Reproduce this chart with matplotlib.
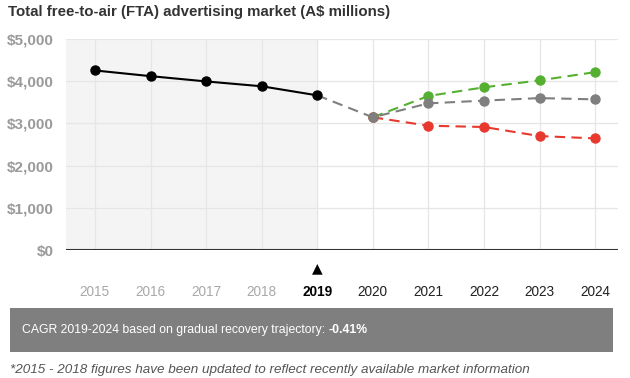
import matplotlib
matplotlib.use('Agg')
import matplotlib.pyplot as plt

plt.rcParams['font.family'] = ['Liberation Sans', 'DejaVu Sans']

# Data (A$ millions)
hist_years = [2015, 2016, 2017, 2018, 2019]
hist_values = [4255, 4120, 3995, 3880, 3665]
proj_years = [2020, 2021, 2022, 2023, 2024]
base_values = [3145, 3475, 3540, 3600, 3570]
upside_values = [3145, 3650, 3855, 4020, 4215]
downside_values = [3145, 2945, 2915, 2700, 2645]
all_years = hist_years + proj_years
y_ticks = [0, 1000, 2000, 3000, 4000, 5000]

title = 'Total free-to-air (FTA) advertising market (A$ millions)'
cagr_text = 'CAGR 2019-2024 based on gradual recovery trajectory: '
cagr_value = '-0.41%'
footnote = '*2015 - 2018 figures have been updated to reflect recently available market information'

GREEN = '#55b032'
RED = '#e8392f'
GREY = '#7f7f7f'

fig = plt.figure(figsize=(6.3, 3.78), dpi=100)
ax = fig.add_axes([0.1048, 0.3386, 0.876, 0.5582])

ax.set_xlim(2014.48, 2024.41)
ax.set_ylim(0, 5000)

# shaded history area
ax.axvspan(2014.48, 2019, color='#f4f4f4', zorder=0)

for y in y_ticks[1:]:
    ax.axhline(y, color='#e6e6e6', lw=0.9, zorder=1)
for x in all_years:
    ax.axvline(x, color='#e6e6e6', lw=0.9, zorder=1)

ms = 6.5
# projections
ax.plot(proj_years, upside_values, color=GREEN, ls=(0, (5, 3)), lw=1.5,
        marker='o', ms=ms, zorder=3)
ax.plot(proj_years, downside_values, color=RED, ls=(0, (5, 3)), lw=1.5,
        marker='o', ms=ms, zorder=3)
ax.plot([hist_years[-1]] + proj_years, [hist_values[-1]] + base_values,
        color=GREY, ls=(0, (5, 3)), lw=1.5, marker='o', ms=ms,
        markevery=list(range(1, 6)), zorder=4)
# history
ax.plot(hist_years, hist_values, color='black', lw=1.5, marker='o', ms=ms, zorder=5)

ax.axhline(0, color='#333333', lw=1.5, zorder=6)

for s in ax.spines.values():
    s.set_visible(False)
ax.tick_params(length=0)
ax.set_yticks(y_ticks)
ax.set_yticklabels(['$' + format(v, ',') for v in y_ticks],
                   fontweight='bold', color='#9a9a9a', fontsize=11)
ax.tick_params(axis='y', pad=9)
ax.set_xticks(all_years)
ax.set_xticklabels([str(y) for y in all_years], fontsize=9.8)
ax.tick_params(axis='x', pad=25)
for lbl, yr in zip(ax.get_xticklabels(), all_years):
    if yr < 2019:
        lbl.set_color('#a8a8a8')
    elif yr == 2019:
        lbl.set_color('black')
        lbl.set_fontweight('bold')
    else:
        lbl.set_color('#222222')

# marker arrow above 2019
ax.annotate('\u25B2', xy=(2019, 0), xytext=(0, -13), textcoords='offset points',
            ha='center', va='center', fontsize=10, color='black',
            family=['DejaVu Sans'])

fig.text(8 / 630, 1 - 12 / 378, title, fontsize=10.8, fontweight='bold',
         color='#333333', va='center', ha='left')

# CAGR box
box = fig.add_axes([10 / 630, 1 - 352 / 378, 603 / 630, 44 / 378])
box.set_facecolor(GREY)
box.set_xticks([])
box.set_yticks([])
for s in box.spines.values():
    s.set_visible(False)
t = box.text(12 / 603, 0.5, cagr_text, color='white', fontsize=8.8,
             va='center', ha='left', transform=box.transAxes)
box.annotate(cagr_value, xycoords=t, xy=(1, 0), va='bottom', ha='left',
             color='white', fontsize=8.8, fontweight='bold')

fig.text(10 / 630, 1 - 370 / 378, footnote, fontsize=9.7, style='italic',
         color='#555555', va='center', ha='left')

fig.savefig('out.png', dpi=100)
